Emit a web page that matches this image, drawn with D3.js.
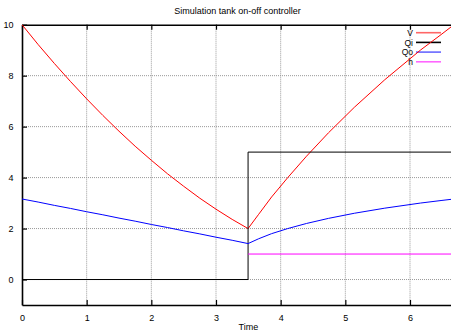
<!DOCTYPE html>
<html>
<head>
<meta charset="utf-8">
<script src="https://cdn.jsdelivr.net/npm/d3@7"></script>
<style>
body { margin: 0; background: #fff; }
svg text { font-family: "Liberation Sans", Arial, sans-serif; fill: #000; }
</style>
</head>
<body>
<div id="container"></div>
<script>
// values
var time = [0, 0.25, 0.5, 0.75, 1, 1.25, 1.5, 1.75, 2, 2.25, 2.5, 2.75, 3, 3.25, 3.496,
            3.66, 3.86, 4.11, 4.40, 4.74, 5.14, 5.61, 6.16, 6.48, 6.68];
var V  = [10, 9.22, 8.48, 7.77, 7.09, 6.44, 5.82, 5.23, 4.68, 4.15, 3.66, 3.19, 2.76, 2.36, 2.0,
          2.56, 3.24, 4.0, 4.84, 5.76, 6.76, 7.84, 9.0, 9.61, 10.0];
var Qo = [3.16, 3.04, 2.91, 2.79, 2.66, 2.54, 2.41, 2.29, 2.16, 2.04, 1.91, 1.79, 1.66, 1.54, 1.41,
          1.6, 1.8, 2.0, 2.2, 2.4, 2.6, 2.8, 3.0, 3.1, 3.16];
var qiTime = [0, 3.496, 3.496, 6.68];
var Qi = [0, 0, 5, 5];
var hTime = [3.496, 6.68];
var h = [1, 1];

var xTicks = [0, 1, 2, 3, 4, 5, 6];
var yTicks = [0, 2, 4, 6, 8, 10];
var seriesNames = ["V", "Qi", "Qo", "h"];
var seriesColors = ["#ff0000", "#000000", "#0000ff", "#ff00ff"];

var width = 451, height = 331;
var margin = {top: 24.7, right: 0, bottom: 26, left: 22};
var plotW = width - margin.left - margin.right;
var plotH = height - margin.top - margin.bottom;

var svg = d3.select("#container").append("svg")
    .attr("width", width)
    .attr("height", height);

var xScale = d3.scaleLinear().domain([0, 6.634]).range([margin.left, margin.left + plotW]);
var yScale = d3.scaleLinear().domain([-1, 10]).range([margin.top + plotH, margin.top]);

svg.append("defs").append("clipPath").attr("id", "plotclip")
  .append("rect")
    .attr("x", margin.left).attr("y", margin.top - 1)
    .attr("width", plotW).attr("height", plotH + 1);

// grid
var grid = svg.append("g");
grid.selectAll(".gx").data(xTicks.slice(1)).enter().append("line")
    .attr("x1", function(d){ return xScale(d); })
    .attr("x2", function(d){ return xScale(d); })
    .attr("y1", margin.top).attr("y2", margin.top + plotH)
    .attr("stroke", "#9a9a9a").attr("stroke-width", 1)
    .attr("stroke-dasharray", "1,1");
grid.selectAll(".gy").data(yTicks.slice(0, -1)).enter().append("line")
    .attr("y1", function(d){ return yScale(d); })
    .attr("y2", function(d){ return yScale(d); })
    .attr("x1", margin.left).attr("x2", margin.left + plotW)
    .attr("stroke", "#9a9a9a").attr("stroke-width", 1)
    .attr("stroke-dasharray", "1,1");

// axes (gnuplot style: inward ticks)
var xAxis = d3.axisBottom(xScale).tickValues(xTicks).tickFormat(d3.format("d"))
    .tickSizeInner(-5).tickSizeOuter(0).tickPadding(10);
var xAxisTop = d3.axisTop(xScale).tickValues(xTicks).tickSizeInner(-5).tickSizeOuter(0).tickFormat("");
var yAxis = d3.axisLeft(yScale).tickValues(yTicks).tickSizeInner(-5).tickSizeOuter(0).tickPadding(9);

var gx = svg.append("g").attr("transform", "translate(0," + (margin.top + plotH) + ")").call(xAxis);
var gxt = svg.append("g").attr("transform", "translate(0," + margin.top + ")").call(xAxisTop);
var gy = svg.append("g").attr("transform", "translate(" + margin.left + ",0)").call(yAxis);
[gx, gxt, gy].forEach(function(g){
  g.select(".domain").attr("stroke", "#000").attr("stroke-width", 1.6);
  g.selectAll(".tick line").attr("stroke", "#000").attr("stroke-width", 1.2);
  g.selectAll("text").attr("font-size", 9).attr("font-family", "Liberation Sans, Arial, sans-serif");
});
gy.selectAll("text").attr("dx", "0.5");

// title and axis label
svg.append("text")
    .attr("x", margin.left + plotW / 2 + 1).attr("y", 14)
    .attr("text-anchor", "middle").attr("font-size", 9)
    .text("Simulation tank on-off controller");
svg.append("text")
    .attr("x", xScale(3.5)).attr("y", 330)
    .attr("text-anchor", "middle").attr("font-size", 9)
    .text("Time");

// legend
var legend = svg.append("g");
seriesNames.forEach(function(name, i){
  var ly = 32.7 + i * 9.7;
  legend.append("text")
      .attr("x", 413).attr("y", ly + 3.2)
      .attr("text-anchor", "end").attr("font-size", 8.5)
      .text(name);
  legend.append("line")
      .attr("x1", 416).attr("x2", 441)
      .attr("y1", ly).attr("y2", ly)
      .attr("stroke", seriesColors[i]).attr("stroke-width", 1.6)
      .attr("stroke-opacity", i == 1 ? 1 : 0.6);
});

// data lines
var plot = svg.append("g").attr("clip-path", "url(#plotclip)");
function drawLine(xs, ys, color){
  var pts = xs.map(function(t, i){ return [t, ys[i]]; });
  plot.append("path")
      .datum(pts)
      .attr("fill", "none")
      .attr("stroke", color)
      .attr("stroke-width", 1)
      .attr("d", d3.line()
          .x(function(d){ return xScale(d[0]); })
          .y(function(d){ return yScale(d[1]); }));
}
drawLine(time, V, seriesColors[0]);
drawLine(qiTime, Qi, seriesColors[1]);
drawLine(time, Qo, seriesColors[2]);
drawLine(hTime, h, seriesColors[3]);
</script>
</body>
</html>
